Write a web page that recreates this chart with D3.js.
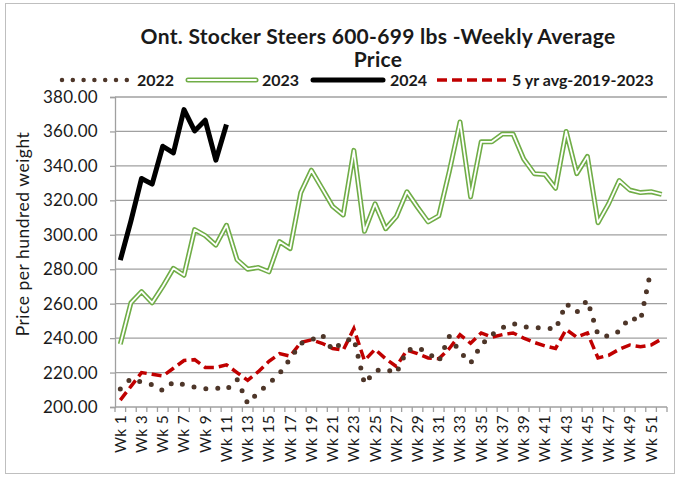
<!DOCTYPE html>
<html>
<head>
<meta charset="utf-8">
<script src="https://cdn.jsdelivr.net/npm/d3@7"></script>
<style>
  html, body { margin: 0; padding: 0; background: #fff; }
  svg { display: block; }
  text { font-family: Lato, "Open Sans", sans-serif; }
</style>
</head>
<body>
<svg id="chart" width="680" height="478"></svg>
<script>
const weeks = d3.range(1, 53).map(i => "Wk " + i);
const yTicks = [200, 220, 240, 260, 280, 300, 320, 340, 360, 380];

const s2022 = [210.5, 216.5, 214.5, 213, 209.5, 214.5, 213, 211.5, 210.5, 211,
  210, 216, 202, 208.5, 213.5, 219.5, 228, 237, 239, 242,
  233, 238, 240, 213.5, 221, 222, 219.5, 233, 234.5, 231.5,
  226.5, 241, 232, 225.5, 236, 242, 246, 248.5, 246.5, 246,
  246, 245, 260, 255, 262, 242, 241, 244, 252, 250,
  280, null];

const s2023 = [236.5, 260.5, 267, 260.5, 270, 280.5, 276.5, 303, 299.5, 294,
  305.5, 285.5, 280, 281, 278.5, 296, 292, 324.5, 337.5, 327,
  316.5, 311.5, 349, 302, 318, 303.5, 310.5, 325, 316, 307.5,
  311, 337, 365.5, 322, 354, 354, 358.5, 358.5, 344, 335.5,
  335, 327, 360, 335.5, 345.5, 307, 318, 331.5, 326, 324.5,
  325, 323.5];

const s2024 = [285.3, 308, 332.7, 329.4, 351.4, 347.5, 372.7, 360.3, 366.5, 343.3, 364];

const sAvg = [204, 212, 220, 219, 218, 222.5, 227, 227.5, 223, 223,
  224.5, 220, 215.5, 220.5, 226.5, 231, 229.5, 237.5, 239, 237,
  234, 233, 245.5, 227, 233.5, 228, 223.5, 233, 231, 228.5,
  228, 234, 242, 237, 243, 240.5, 242, 243, 240, 237.5,
  235.5, 234, 245, 240.5, 243, 228.5, 230, 233.5, 236, 235,
  236, 239.5];

const svg = d3.select("#chart");

// chart border
svg.append("rect").attr("x", 5.5).attr("y", 3.5).attr("width", 669).attr("height", 470)
  .attr("fill", "#fff").attr("stroke", "#bfbfbf").attr("stroke-width", 1);

const pLeft = 115, pRight = 667, pTop = 97, pBottom = 407;
const x = d3.scaleBand().domain(weeks).range([pLeft, pRight]).padding(0);
const y = d3.scaleLinear().domain([200, 380]).range([pBottom, pTop]);
const cx = w => x(w) + x.bandwidth() / 2;

// title
svg.append("text").attr("x", 378).attr("y", 44).attr("text-anchor", "middle")
  .attr("font-size", 21).attr("font-weight", "bold").attr("fill", "#1a1a1a")
  .attr("letter-spacing", 0.3)
  .text("Ont. Stocker Steers 600-699 lbs -Weekly Average");
svg.append("text").attr("x", 378).attr("y", 67).attr("text-anchor", "middle")
  .attr("font-size", 21).attr("font-weight", "bold").attr("fill", "#1a1a1a")
  .attr("letter-spacing", 0.3)
  .text("Price");

// gridlines
svg.append("g").selectAll("line").data(yTicks.filter(v => v > 200)).join("line")
  .attr("x1", pLeft).attr("x2", pRight)
  .attr("y1", d => y(d)).attr("y2", d => y(d))
  .attr("stroke", "#a0a0a0").attr("stroke-width", 1.3);

// y axis
const yAxis = svg.append("g").attr("transform", `translate(${pLeft},0)`)
  .call(d3.axisLeft(y).tickValues(yTicks).tickFormat(d3.format(".2f")).tickSize(5).tickPadding(12));
yAxis.select(".domain").attr("stroke", "#a0a0a0").attr("stroke-width", 1.3);
yAxis.selectAll(".tick line").attr("stroke", "#a0a0a0").attr("stroke-width", 1.3);
yAxis.selectAll(".tick text").attr("font-size", 17).attr("fill", "#1a1a1a")
  .attr("letter-spacing", 0.3)
  .style("font-family", "Lato, sans-serif");

// x axis
const xAxis = svg.append("g").attr("transform", `translate(0,${pBottom})`)
  .call(d3.axisBottom(x).tickValues(weeks.filter((d, i) => i % 2 === 0)).tickSize(0).tickPadding(0));
xAxis.select(".domain").remove();
xAxis.selectAll(".tick text")
  .attr("transform", "rotate(-90)")
  .attr("text-anchor", "end")
  .attr("x", -8).attr("y", 0).attr("dy", "0.35em")
  .attr("font-size", 15.5).attr("fill", "#1a1a1a")
  .attr("letter-spacing", 0.3)
  .style("font-family", "Lato, sans-serif");
svg.append("line").attr("x1", pLeft).attr("x2", pRight).attr("y1", pBottom).attr("y2", pBottom)
  .attr("stroke", "#a0a0a0").attr("stroke-width", 1.3);
svg.append("g").selectAll("line").data(d3.range(weeks.length + 1)).join("line")
  .attr("x1", i => pLeft + i * x.step()).attr("x2", i => pLeft + i * x.step())
  .attr("y1", pBottom).attr("y2", pBottom + 5)
  .attr("stroke", "#a0a0a0").attr("stroke-width", 1.3);

// y axis title
svg.append("text").attr("transform", "translate(29,234) rotate(-90)")
  .attr("text-anchor", "middle").attr("font-size", 17.5).attr("fill", "#1a1a1a")
  .attr("letter-spacing", 0.5)
  .text("Price per hundred weight");

const line = d3.line().defined(d => d != null).x((d, i) => cx(weeks[i])).y(d => y(d));

const plot = svg.append("g");
// 5 yr avg
plot.append("path").attr("d", line(sAvg)).attr("fill", "none")
  .attr("stroke", "#C00000").attr("stroke-width", 3.5).attr("stroke-dasharray", "10 5");
// 2022 dotted
plot.append("path").attr("d", line(s2022)).attr("fill", "none")
  .attr("stroke", "#4E3629").attr("stroke-width", 5).attr("stroke-linecap", "round")
  .attr("stroke-dasharray", "0 12");
// 2023 double line
plot.append("path").attr("d", line(s2023)).attr("fill", "none")
  .attr("stroke", "#70AD47").attr("stroke-width", 5).attr("stroke-linejoin", "round");
plot.append("path").attr("d", line(s2023)).attr("fill", "none")
  .attr("stroke", "#ffffff").attr("stroke-width", 1.8).attr("stroke-linejoin", "round");
// 2024
plot.append("path").attr("d", line(s2024)).attr("fill", "none")
  .attr("stroke", "#000").attr("stroke-width", 5).attr("stroke-linejoin", "round");

// legend
const ly = 80;
const lg = svg.append("g");
lg.append("line").attr("x1", 62).attr("x2", 128).attr("y1", ly).attr("y2", ly)
  .attr("stroke", "#4E3629").attr("stroke-width", 4.5).attr("stroke-linecap", "round")
  .attr("stroke-dasharray", "0 10.8");
lg.append("text").attr("x", 137).attr("y", ly + 5.5).attr("font-size", 16).attr("font-weight", "bold")
  .attr("fill", "#1a1a1a").text("2022");
lg.append("line").attr("x1", 188).attr("x2", 256).attr("y1", ly).attr("y2", ly)
  .attr("stroke", "#70AD47").attr("stroke-width", 5).attr("stroke-linecap", "round");
lg.append("line").attr("x1", 188).attr("x2", 256).attr("y1", ly).attr("y2", ly)
  .attr("stroke", "#fff").attr("stroke-width", 1.8).attr("stroke-linecap", "round");
lg.append("text").attr("x", 262).attr("y", ly + 5.5).attr("font-size", 16).attr("font-weight", "bold")
  .attr("fill", "#1a1a1a").text("2023");
lg.append("line").attr("x1", 313).attr("x2", 383).attr("y1", ly).attr("y2", ly)
  .attr("stroke", "#000").attr("stroke-width", 5).attr("stroke-linecap", "round");
lg.append("text").attr("x", 390).attr("y", ly + 5.5).attr("font-size", 16).attr("font-weight", "bold")
  .attr("fill", "#1a1a1a").text("2024");
lg.append("line").attr("x1", 437).attr("x2", 506).attr("y1", ly).attr("y2", ly)
  .attr("stroke", "#C00000").attr("stroke-width", 3.5).attr("stroke-dasharray", "10 5");
lg.append("text").attr("x", 512).attr("y", ly + 5.5).attr("font-size", 16).attr("font-weight", "bold")
  .attr("fill", "#1a1a1a").text("5 yr avg-2019-2023");
</script>
</body>
</html>
